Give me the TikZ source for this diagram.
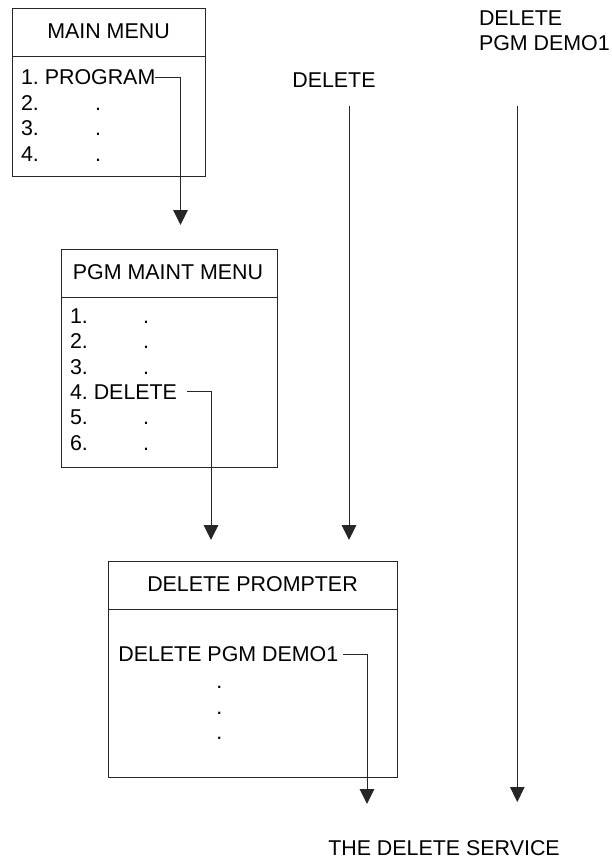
\documentclass[tikz,border=0pt]{standalone}
\usepackage{fontspec}
\setmainfont{Liberation Sans}
\usetikzlibrary{arrows.meta}
\frenchspacing
\begin{document}
\begin{tikzpicture}[x=1pt,y=-1pt,
  txt/.style={inner sep=0pt, outer sep=0pt, font=\fontsize{21.4}{25}\selectfont, text=black},
  menubox/.style={draw=black!85, line width=1pt, inner sep=0pt, outer sep=0pt, anchor=north west},
  divider/.style={draw=black!85, line width=1pt},
  conn/.style={draw=black!85, line width=1pt, -{Triangle[length=15pt,width=14.5pt]}},
  ]
\useasboundingbox (0,0) rectangle (612,861);
\fill[white] (0,0) rectangle (612,861);

% ---------- MAIN MENU ----------
\node[menubox, minimum width=193pt, minimum height=168pt] (mainbox) at (12,9) {};
\draw[divider] (mainbox.west |- 0,57) -- (mainbox.east |- 0,57);
\node[txt, anchor=base] (maint) at (108.5,39) {MAIN MENU};
\node[txt, anchor=base west] (prog) at (21,85) {1. PROGRAM};
\node[txt, anchor=base west] (m2) at (21,110.5) {2.};
\node[txt, anchor=base west] (m3) at (21,136) {3.};
\node[txt, anchor=base west] (m4) at (21,161.5) {4.};
\node[txt, anchor=base] (m2d) at (98,110.5) {.};
\node[txt, anchor=base] (m3d) at (98,136) {.};
\node[txt, anchor=base] (m4d) at (98,161.5) {.};

% ---------- PGM MAINT MENU ----------
\node[menubox, minimum width=216pt, minimum height=218pt] (pgmbox) at (61,249) {};
\draw[divider] (pgmbox.west |- 0,297) -- (pgmbox.east |- 0,297);
\node[txt, anchor=base] (pgmt) at (168,279) {PGM MAINT MENU};
\node[txt, anchor=base west] (p1) at (70,323.3) {1.};
\node[txt, anchor=base west] (p2) at (70,348.7) {2.};
\node[txt, anchor=base west] (p3) at (70,374) {3.};
\node[txt, anchor=base west] (del4) at (70,399.3) {4. DELETE};
\node[txt, anchor=base west] (p5) at (70,424.7) {5.};
\node[txt, anchor=base west] (p6) at (70,450) {6.};
\node[txt, anchor=base] (p1d) at (146,323.3) {.};
\node[txt, anchor=base] (p2d) at (146,348.7) {.};
\node[txt, anchor=base] (p3d) at (146,374) {.};
\node[txt, anchor=base] (p5d) at (146,424.7) {.};
\node[txt, anchor=base] (p6d) at (146,450) {.};

% ---------- DELETE PROMPTER ----------
\node[menubox, minimum width=289pt, minimum height=216pt] (prbox) at (108.3,561.7) {};
\draw[divider] (prbox.west |- 0,609.3) -- (prbox.east |- 0,609.3);
\node[txt, anchor=base] (prt) at (252.5,591.7) {DELETE PROMPTER};
\node[txt, anchor=base west] (demo) at (118.3,661.7) {DELETE PGM DEMO1};
\node[txt, anchor=base] (d1) at (219.3,688.5) {.};
\node[txt, anchor=base] (d2) at (219.3,714) {.};
\node[txt, anchor=base] (d3) at (219.3,739) {.};

% ---------- free labels ----------
\node[txt, anchor=base west] (dlab) at (292.3,88) {DELETE};
\node[txt, anchor=base west, align=left] (dpglab) at (479,51) {DELETE\\[0.4pt]PGM DEMO1};
\node[txt, anchor=base] (svc) at (444,855) {THE DELETE SERVICE};

% ---------- connector ends ----------
\coordinate (c1) at (180.5,225);
\coordinate (c2) at (211,540);
\coordinate (m1) at (349,106);
\coordinate (c3) at (349,540);
\coordinate (r1) at (517.3,106);
\coordinate (c4) at (517.3,802);
\coordinate (c5) at (367,804);

% ---------- connectors ----------
\draw[conn] (prog.east) -| (c1);
\draw[conn] ([xshift=10pt]del4.east) -| (c2);
\draw[conn] (m1) -- (c3);
\draw[conn] (r1) -- (c4);
\draw[conn] ([xshift=5pt]demo.east) -| (c5);
\end{tikzpicture}
\end{document}
